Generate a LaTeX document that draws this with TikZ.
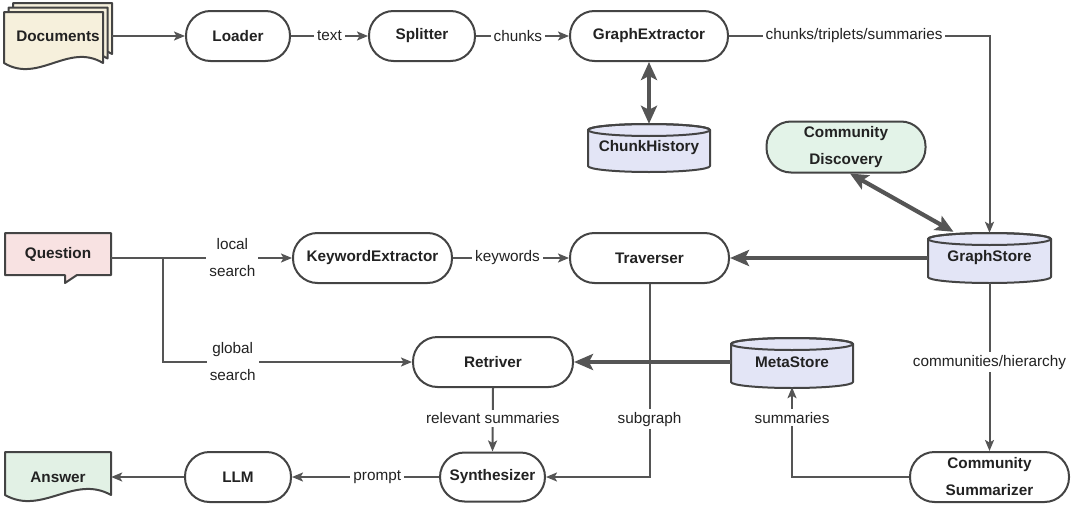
\documentclass[tikz,border=0pt]{standalone}
\usepackage{fontspec}
\setmainfont{Liberation Sans}
\usetikzlibrary{arrows.meta}
\definecolor{bordc}{HTML}{444444}
\definecolor{linec}{HTML}{555555}
\definecolor{txtc}{HTML}{222222}
\definecolor{docfill}{HTML}{F6F0DC}
\definecolor{qfill}{HTML}{F8E2E2}
\definecolor{ansfill}{HTML}{E2F1E5}
\definecolor{cdfill}{HTML}{E3F3E8}
\definecolor{dbfill}{HTML}{E3E5F6}
\newcommand\nf{\fontsize{15.3}{27}\selectfont}
% document sheet: L T R B fill
\newcommand\mydoc[5]{%
  \filldraw[shapest, fill=#5] (#1,#2) -- (#3,#2) -- (#3,#4)
    .. controls ({#3-0.35*(#3-#1)},{#4-21}) and ({#1+0.35*(#3-#1)},{#4+21}) .. (#1,#4) -- cycle;}
% cylinder: L T R B
\newcommand\mydb[4]{%
  \pgfmathsetmacro\dbrx{(#3-#1)/2}%
  \pgfmathsetmacro\dbcx{(#3+#1)/2}%
  \filldraw[shapest, fill=dbfill] (#1,#2+6) -- (#1,#4-6)
    arc[start angle=180, end angle=360, x radius=\dbrx pt, y radius=6pt]
    -- (#3,#2+6)
    arc[start angle=0, end angle=180, x radius=\dbrx pt, y radius=6pt] -- cycle;
  \draw[shapest] (\dbcx,#2+6) ellipse[x radius=\dbrx pt, y radius=6pt];}
\begin{document}
\begin{tikzpicture}[x=1pt,y=-1pt,
  pill/.style={draw=bordc, line width=2pt, rounded corners=24.5pt, minimum height=50pt,
    inner sep=0pt, fill=white, font=\nf\bfseries, text=txtc, align=center},
  plain/.style={inner sep=0pt, font=\nf\bfseries, text=txtc, align=center},
  shapest/.style={draw=bordc, line width=2pt, line join=round},
  conn/.style={draw=linec, line width=2pt, -{Stealth[length=11pt,width=9pt,inset=2.5pt]}},
  thickarr/.style={draw=linec, line width=4.2pt, -{Stealth[length=19pt,width=16pt,inset=4pt]}},
  dblarr/.style={draw=linec, line width=4.2pt,
    {Stealth[length=18pt,width=16pt,inset=4pt]}-{Stealth[length=18pt,width=16pt,inset=4pt]}},
  lbl/.style={fill=white, inner sep=3pt, font=\nf, text=txtc, align=center},
]
\useasboundingbox (0,0) rectangle (1080,506);

% ---- Documents (stack)
\mydoc{13}{3}{112}{54}{docfill}
\mydoc{8.5}{7.5}{107.5}{58.5}{docfill}
\mydoc{4}{12}{103}{63}{docfill}
\node[plain, minimum width=108pt, minimum height=50pt] (docs) at (58,36) {Documents};

% ---- top row
\node[pill, minimum width=104pt] (loader) at (238,36) {Loader};
\node[pill, minimum width=106pt] (split) at (422,36) {Splitter};
\node[pill, minimum width=158pt] (ge) at (649,36) {GraphExtractor};

% ---- ChunkHistory
\mydb{588}{124}{710}{172}
\node[plain, minimum width=122pt, minimum height=48pt] (ch) at (649,148) {\raisebox{-4pt}{ChunkHistory}};

% ---- Community Discovery
\node[pill, minimum width=159pt, minimum height=51pt, fill=cdfill] (cd) at (846,147) {Community\\Discovery};

% ---- GraphStore
\mydb{928}{233}{1051}{283}
\node[plain, minimum width=123pt, minimum height=50pt] (gs) at (989.5,258) {\raisebox{-5pt}{GraphStore}};

% ---- Question callout
\filldraw[shapest, fill=qfill] (5,233) -- (111,233) -- (111,275) -- (77,275) -- (65,283) -- (65,275) -- (5,275) -- cycle;
\node[plain, minimum width=106pt, minimum height=42pt] (q) at (58,254) {Question};

% ---- middle row
\node[pill, minimum width=159pt] (ke) at (372.5,258) {KeywordExtractor};
\node[pill, minimum width=159pt] (trav) at (649.5,258) {Traverser};
\node[pill, minimum width=160pt] (ret) at (493,362) {Retriver};

% ---- MetaStore
\mydb{731}{338}{853}{388}
\node[plain, minimum width=122pt, minimum height=50pt] (ms) at (792,362) {\raisebox{-5pt}{MetaStore}};

% ---- bottom row
\node[pill, minimum width=159pt] (cs) at (989.5,477) {Community\\Summarizer};
\node[pill, minimum width=105pt, minimum height=49pt] (syn) at (492.5,477) {Synthesizer};
\node[pill, minimum width=106pt] (llm) at (238,477) {LLM};
\mydoc{5}{452}{111}{495}{ansfill}
\node[plain, minimum width=106pt, minimum height=40pt] (ans) at (58,477) {Answer};

% ---- connectors: top
\draw[conn] (docs.east) -- (loader.west);
\draw[conn] (loader.east) -- node[lbl, pos=0.5] {text} (split.west);
\draw[conn] (split.east) -- node[lbl, pos=0.45] {chunks} (ge.west);
\draw[conn] (ge.east) -| node[lbl, pos=0.24] {chunks/triplets/summaries} (gs.north);
\draw[dblarr] (ge.south) -- (ch.north);
\draw[dblarr] ([xshift=4pt]cd.south) -- ([xshift=-36pt,yshift=1pt]gs.north);

% ---- connectors: question
\coordinate (br) at (163,258);
\draw[conn] ([yshift=-4pt]q.east) -- node[lbl, pos=0.67] {local\\search} (ke.west);
\draw[conn] (br) |- node[lbl, pos=0.64] {global\\search} (ret.west);
\draw[conn] (ke.east) -- node[lbl, pos=0.47] {keywords} (trav.west);

% ---- stores
\draw[thickarr] (gs.west) -- (trav.east);
\draw[thickarr] (ms.west) -- (ret.east);

% ---- lower connectors
\draw[conn] (trav.south) |- node[lbl, pos=0.35] {subgraph} (syn.east);
\draw[conn] (ret.south) -- node[lbl, pos=0.48] {relevant summaries} (syn.north);
\draw[conn] (syn.west) -- node[lbl, pos=0.42] {prompt} (llm.east);
\draw[conn] (llm.west) -- (ans.east);
\draw[conn] (gs.south) -- node[lbl, pos=0.47] {communities/hierarchy} (cs.north);
\draw[conn] (cs.west) -| node[lbl, pos=0.83] {summaries} (ms.south);
\end{tikzpicture}
\end{document}
